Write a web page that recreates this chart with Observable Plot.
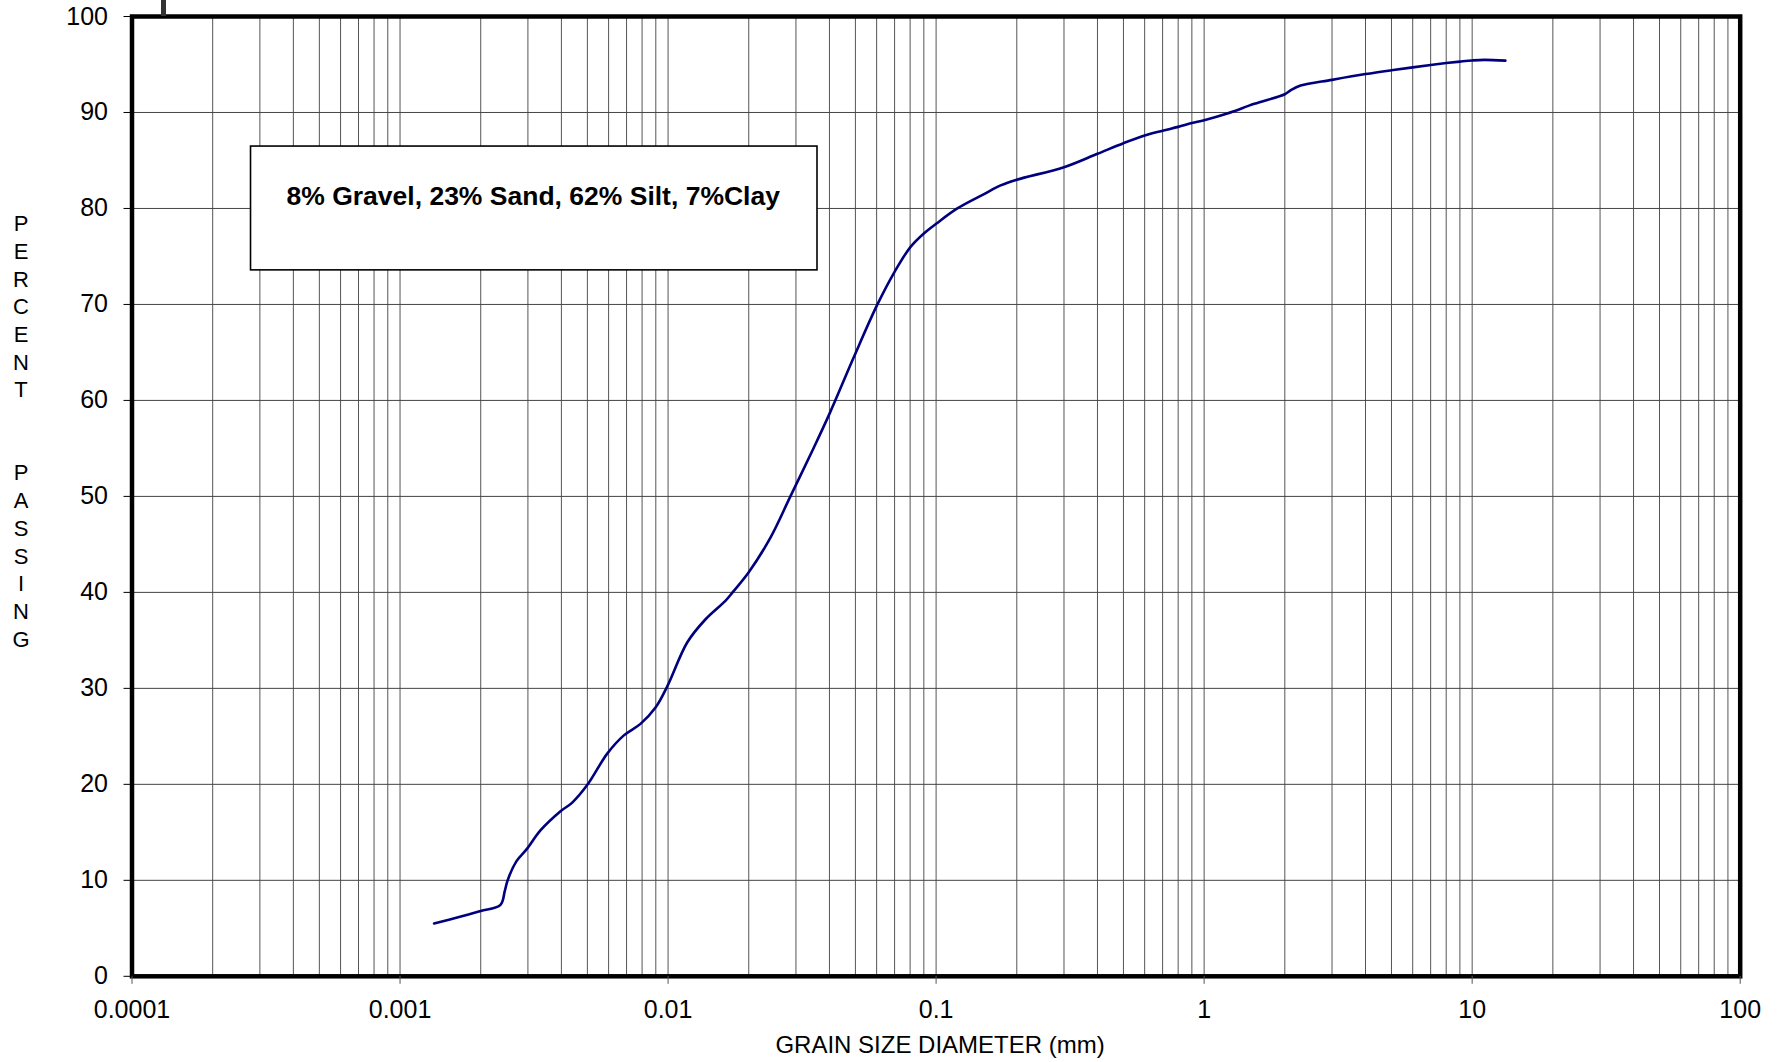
<!DOCTYPE html>
<html>
<head>
<meta charset="utf-8">
<script src="https://cdn.jsdelivr.net/npm/d3@7"></script>
<script src="https://cdn.jsdelivr.net/npm/@observablehq/plot@0.6"></script>
<style>
  html, body { margin: 0; padding: 0; background: #fff; }
  #wrap { position: relative; width: 1777px; height: 1062px; }
  #stray { position: absolute; left: 161px; top: 0; width: 5px; height: 16px; background: #333; }
</style>
</head>
<body>
<div id="wrap"><div id="stray"></div></div>
<script>
// Grain size (mm) and percent passing
const grainSize = [0.00134, 0.0017, 0.002, 0.00237, 0.00246, 0.00252, 0.00272, 0.00298, 0.00334, 0.00397,
  0.00439, 0.005, 0.00593, 0.00684, 0.00789, 0.00898, 0.00993, 0.0118, 0.0138, 0.0164,
  0.0174, 0.02, 0.0241, 0.0286, 0.035, 0.04, 0.0493, 0.0604, 0.07, 0.0803,
  0.09, 0.1, 0.12, 0.151, 0.174, 0.2, 0.3, 0.4, 0.5, 0.6,
  0.7, 0.8, 0.9, 1.0, 1.22, 1.54, 2.0, 2.1, 2.29, 3,
  4, 5, 6, 7, 8, 9, 10, 11.1, 13.3];
const percentPassing = [5.5, 6.25, 6.8, 7.45, 8.9, 10, 12.0, 13.3, 15.2, 17.2,
  18.1, 19.95, 23.2, 25.1, 26.3, 28.0, 30.2, 34.8, 37.2, 39.15,
  40.0, 42.1, 45.7, 50, 55.1, 58.6, 64.5, 70, 73.4, 76.0,
  77.4, 78.4, 80.0, 81.5, 82.4, 83.0, 84.3, 85.7, 86.8, 87.6,
  88.1, 88.5, 88.9, 89.2, 89.9, 90.9, 91.9, 92.3, 92.8, 93.4,
  94.0, 94.4, 94.7, 94.95, 95.15, 95.3, 95.42, 95.48, 95.4];

const xTicks = [0.0001, 0.001, 0.01, 0.1, 1, 10, 100];
const xTickLabels = ["0.0001", "0.001", "0.01", "0.1", "1", "10", "100"];
const yTicks = [0, 10, 20, 30, 40, 50, 60, 70, 80, 90, 100];
const yLabel = "PERCENT  PASSING";
const xLabel = "GRAIN SIZE DIAMETER (mm)";
const legendText = "8% Gravel, 23% Sand, 62% Silt, 7%Clay";
// legend box extent in data space (annotation)
const legendBox = [{x1: 0.000278, x2: 0.0361, y1: 73.55, y2: 86.45}];
const legendAnchor = [{x: 0.00314, y: 81.2}];

// vertical grid: 1..9 × every decade
const xGrid = [];
for (let e = -4; e <= 1; e++) for (let m = 1; m <= 9; m++) xGrid.push(+(m * Math.pow(10, e)).toPrecision(3));
xGrid.push(100);
const yGrid = yTicks.slice(1, -1);

const data = grainSize.map((g, i) => ({size: g, pct: percentPassing[i]}));
// stacked letters: PERCENT, two blank lines, PASSING
const yTitle = yLabel.split("").map(c => c === " " ? "" : c).join("\n");

const chart = Plot.plot({
  width: 1777,
  height: 1062,
  marginLeft: 131.5,
  marginRight: 37.3,
  marginTop: 16,
  marginBottom: 86.2,
  style: {fontFamily: "'Liberation Sans', Arial, sans-serif", background: "#fff", color: "#000"},
  x: {type: "log", domain: [0.0001, 100]},
  y: {domain: [0, 100]},
  marks: [
    Plot.ruleX(xGrid, {stroke: "#555", strokeWidth: 1}),
    Plot.ruleY(yGrid, {stroke: "#444", strokeWidth: 1}),
    Plot.line(data, {x: "size", y: "pct", stroke: "#00007f", strokeWidth: 2.6, curve: "catmull-rom"}),
    Plot.rect(legendBox, {x1: "x1", x2: "x2", y1: "y1", y2: "y2", fill: "#fff", stroke: "#000", strokeWidth: 1.6}),
    Plot.text(legendAnchor, {x: "x", y: "y", text: () => legendText, fontSize: 26.5, fontWeight: "bold", fill: "#000"}),
    Plot.frame({stroke: "#000", strokeWidth: 4.5}),
    Plot.axisX(xTicks, {tickSize: 8, tickPadding: 15.5, fontSize: 25, stroke: "#555", tickFormat: d => xTickLabels[xTicks.indexOf(d)], label: null}),
    Plot.axisY(yTicks, {tickSize: 8, tickPadding: 16, fontSize: 25, stroke: "#000", label: null}),
    Plot.text([xLabel], {frameAnchor: "bottom", text: d => d, dx: 4, dy: 69.5, fontSize: 24, lineAnchor: "middle", fill: "#000"}),
    Plot.text([yTitle], {frameAnchor: "left", text: d => d, dx: -111, dy: 429.5 - 495.9, fontSize: 22, lineHeight: 27.7 / 22, lineAnchor: "middle", textAnchor: "middle", fill: "#000"})
  ]
});
document.getElementById("wrap").appendChild(chart);
</script>
</body>
</html>
